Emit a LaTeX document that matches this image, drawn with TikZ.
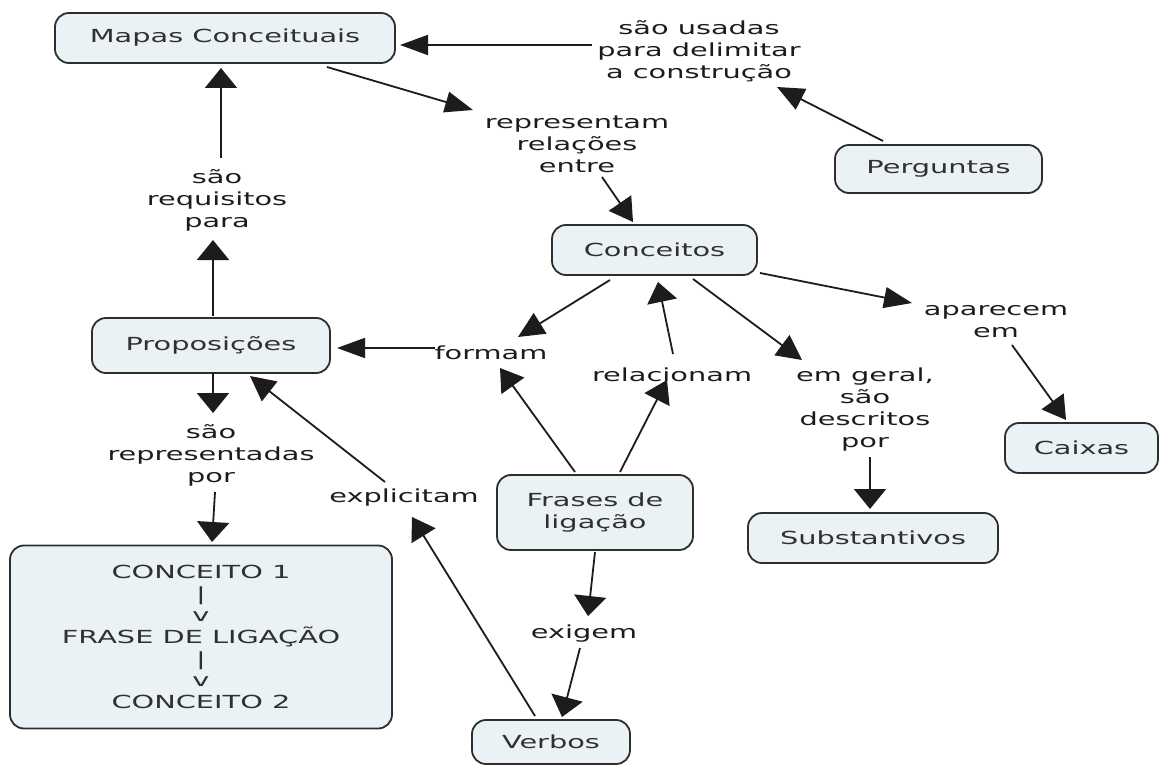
\documentclass[tikz,border=0pt]{standalone}
\usepackage{fontspec}
\newfontfamily\cmapfont{DejaVu Sans}[FakeStretch=1.6]
\usetikzlibrary{arrows.meta}
\definecolor{boxfill}{HTML}{EBF2F5}
\definecolor{boxline}{HTML}{2E2E2E}
\definecolor{ink}{HTML}{1C1C1C}
\definecolor{boxink}{HTML}{303030}
\begin{document}
\begin{tikzpicture}[x=1pt,y=-1pt,
  concept/.style={draw=boxline, line width=1.8pt, fill=boxfill, rounded corners=14pt,
    inner sep=0pt, align=center, text=boxink, font=\cmapfont\fontsize{18}{22}\selectfont},
  linkph/.style={inner sep=2pt, align=center, text=ink, font=\cmapfont\fontsize{18}{22}\selectfont},
  conn/.style={draw=ink, line width=1.8pt},
  arrtip/.style 2 args={-{Triangle[length=#1,width=#2]}}
]
\useasboundingbox (0,0) rectangle (1160,765);
\fill[white] (0,0) rectangle (1160,765);

% concept boxes
\node[concept, minimum width=340pt, minimum height=50pt] (mapas) at (225,38) {Mapas Conceituais};
\node[concept, minimum width=207pt, minimum height=48pt] (perg) at (938.5,169) {Perguntas};
\node[concept, minimum width=205pt, minimum height=50pt] (conc) at (654.5,250) {Conceitos};
\node[concept, minimum width=238pt, minimum height=55pt] (prop) at (211,345.5) {Proposições};
\node[concept, minimum width=153pt, minimum height=50pt] (caix) at (1081.5,448) {Caixas};
\node[concept, minimum width=196pt, minimum height=75pt] (frases) at (595,512.5) {Frases de\\ligação};
\node[concept, minimum width=250pt, minimum height=50pt] (subst) at (873,538) {Substantivos};
\node[concept, minimum width=382pt, minimum height=183pt,
      font=\cmapfont\fontsize{18}{21.7}\selectfont] (cbox) at (201,637)
      {CONCEITO 1\\|\\v\\FRASE DE LIGAÇÃO\\|\\v\\CONCEITO 2};
\node[concept, minimum width=158pt, minimum height=44pt] (verbos) at (551,742) {Verbos};

% linking phrases
\node[linkph] (usadas) at (699,51) {são usadas\\para delimitar\\a construção};
\node[linkph] (repres) at (577,144) {representam\\relações\\entre};
\node[linkph] (requis) at (217,200) {são\\requisitos\\para};
\node[linkph] (formam) at (491,353) {formam};
\node[linkph] (relac) at (672,375) {relacionam};
\node[linkph] (aparec) at (996,322) {aparecem\\em};
\node[linkph] (emgeral) at (865,410) {em geral,\\são\\descritos\\por};
\node[linkph] (srepr) at (211,455) {são\\representadas\\por};
\node[linkph] (explic) at (404,498) {explicitam};
\node[linkph] (exigem) at (584,634) {exigem};

% connectors
\draw[conn, arrtip={28pt}{20pt}] ([shift={(-107,-6)}]usadas.center) -- ([shift={(175,7)}]mapas.center);
\draw[conn, arrtip={27pt}{23pt}] ([shift={(-55.5,-28)}]perg.center) -- ([shift={(78,36)}]usadas.center);
\draw[conn, arrtip={28pt}{21pt}] ([shift={(102,29)}]mapas.center) -- ([shift={(-104,-34)}]repres.center);
\draw[conn, arrtip={23pt}{27pt}] ([shift={(25,33)}]repres.center) -- ([shift={(-21.5,-28)}]conc.center);
\draw[conn, arrtip={20pt}{32pt}] ([shift={(4,-42)}]requis.center) -- ([shift={(-4,30)}]mapas.center);
\draw[conn, arrtip={20pt}{32pt}] ([shift={(2,-29.5)}]prop.center) -- ([shift={(-4,40)}]requis.center);
\draw[conn, arrtip={26pt}{24pt}] ([shift={(-44.5,30)}]conc.center) -- ([shift={(27,-16)}]formam.center);
\draw[conn, arrtip={22pt}{28pt}] ([shift={(-20,-40.5)}]frases.center) -- ([shift={(9,15)}]formam.center);
\draw[conn, arrtip={22pt}{28pt}] ([shift={(25,-40.5)}]frases.center) -- ([shift={(-5,5)}]relac.center);
\draw[conn, arrtip={20pt}{30pt}] ([shift={(1,-21)}]relac.center) -- ([shift={(3.5,32)}]conc.center);
\draw[conn, arrtip={25pt}{25pt}] ([shift={(38.5,29)}]conc.center) -- ([shift={(-63,-50)}]emgeral.center);
\draw[conn, arrtip={28pt}{21pt}] ([shift={(105.5,23)}]conc.center) -- ([shift={(-84,-19)}]aparec.center);
\draw[conn, arrtip={23pt}{27pt}] ([shift={(16,23)}]aparec.center) -- ([shift={(-15.5,-28)}]caix.center);
\draw[conn, arrtip={20pt}{32pt}] ([shift={(5,47)}]emgeral.center) -- ([shift={(-3,-29)}]subst.center);
\draw[conn, arrtip={28pt}{20pt}] ([shift={(-56,-5)}]formam.center) -- ([shift={(126,2.5)}]prop.center);
\draw[conn, arrtip={20pt}{32pt}] ([shift={(2,27.5)}]prop.center) -- ([shift={(2,-42)}]srepr.center);
\draw[conn, arrtip={20pt}{32pt}] ([shift={(4,37)}]srepr.center) -- ([shift={(11,-95)}]cbox.center);
\draw[conn, arrtip={22pt}{28pt}] ([shift={(-16,-26)}]verbos.center) -- ([shift={(8,19)}]explic.center);
\draw[conn, arrtip={25pt}{25pt}] ([shift={(-19,-16)}]explic.center) -- ([shift={(39,30.5)}]prop.center);
\draw[conn, arrtip={20pt}{32pt}] ([shift={(0,39.5)}]frases.center) -- ([shift={(4,-18)}]exigem.center);
\draw[conn, arrtip={20pt}{32pt}] ([shift={(-4,14)}]exigem.center) -- ([shift={(11,-25)}]verbos.center);
\end{tikzpicture}
\end{document}
